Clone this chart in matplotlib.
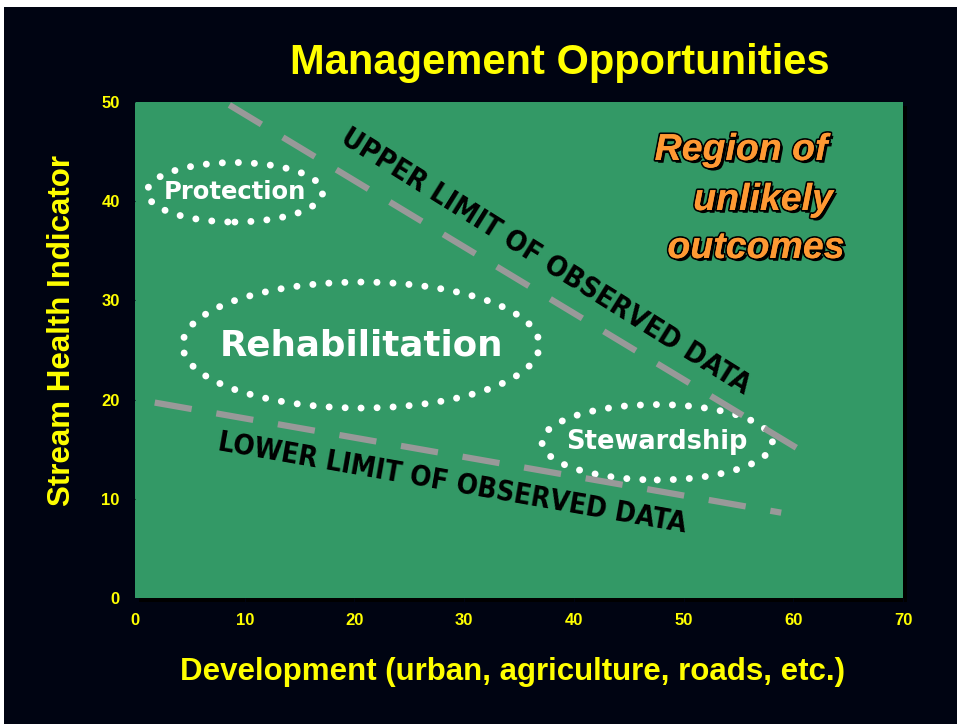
import matplotlib.pyplot as plt
import matplotlib.patheffects as pe
from matplotlib import font_manager
from matplotlib.patches import Ellipse, Rectangle

# limits of observed data (development, stream health)
upper_x = [8.6, 60.5]
upper_y = [49.7, 15.0]
lower_x = [1.8, 58.9]
lower_y = [19.7, 8.6]

# management zones: name, centre x, centre y, width, height
zone_names = ['Protection', 'Rehabilitation', 'Stewardship']
zone_x = [9.1, 20.6, 47.6]
zone_y = [40.9, 25.5, 15.7]
zone_w = [16.0, 32.5, 21.0]
zone_h = [6.0, 12.7, 7.6]
zone_size = [17.5, 25.7, 18.5]

xticks = [0, 10, 20, 30, 40, 50, 60, 70]
yticks = [0, 10, 20, 30, 40, 50]

yellow = '#ffff00'
green = '#339966'
bg = '#000412'

# narrow face for the limit labels if one is installed, bold one first
fonts = font_manager.fontManager.ttflist
narrow = [f for f in fonts if 'Narrow' in f.name or 'Condensed' in f.name
          or f.stretch in ('condensed', 'semi-condensed', 575, 625)]
narrow_bold = [f for f in narrow if f.weight in ('bold', 700, 'heavy', 800)]
if narrow_bold:
    limit_font, limit_stretch = narrow_bold[0].name, narrow_bold[0].stretch
elif narrow:
    limit_font, limit_stretch = narrow[0].name, narrow[0].stretch
else:
    limit_font, limit_stretch = 'Liberation Sans', 'normal'

fig = plt.figure(figsize=(9.57, 7.24), dpi=100, facecolor='white')
fig.patches.append(Rectangle((4 / 957, 0), 1, 1 - 7 / 724, transform=fig.transFigure,
                             facecolor=bg, edgecolor='none', zorder=-5))

ax = fig.add_axes([135 / 957, 1 - 598 / 724, 768 / 957, 496 / 724])
ax.set_zorder(1)
ax.set_facecolor(green)
ax.patch.set_path_effects([pe.SimplePatchShadow(offset=(3, -3), shadow_rgbFace='black', alpha=1),
                           pe.Normal()])
ax.set_xlim(0, 70)
ax.set_ylim(0, 50)
for s in ax.spines.values():
    s.set_visible(False)
ax.set_xticks(xticks)
ax.set_yticks(yticks)
ax.tick_params(colors=bg, labelcolor=yellow, length=4, pad=7)
for lab in ax.get_xticklabels() + ax.get_yticklabels():
    lab.set_fontweight('bold')
    lab.set_fontsize(12)
    lab.set_fontfamily('Liberation Sans')

ax.plot(upper_x, upper_y, color='#999999', lw=4.5, dashes=(6, 4), solid_capstyle='butt')
ax.plot(lower_x, lower_y, color='#999999', lw=4.5, dashes=(6, 4), solid_capstyle='butt')

for name, cx, cy, w, h, fs in zip(zone_names, zone_x, zone_y, zone_w, zone_h, zone_size):
    e = Ellipse((cx, cy), w, h, fill=False, edgecolor='white', lw=5,
                linestyle=(0, (0.01, 2.3)), capstyle='round')
    ax.add_patch(e)
    ax.text(cx, cy, name, color='white', fontsize=fs, fontweight='bold',
            family='DejaVu Sans', ha='center', va='center')

up = ax.text(0.534, 0.679, 'UPPER LIMIT OF OBSERVED DATA', transform=ax.transAxes,
             rotation=-32, rotation_mode='anchor', ha='center', va='center',
             fontsize=20, family=limit_font, fontstretch=limit_stretch,
             fontweight='bold', color='black')
lo = ax.text(0.413, 0.232, 'LOWER LIMIT OF OBSERVED DATA', transform=ax.transAxes,
             rotation=-10, rotation_mode='anchor', ha='center', va='center',
             fontsize=20, family=limit_font, fontstretch=limit_stretch,
             fontweight='bold', color='black')

# fit both limit labels to the run they have in the original (about 475 px)
r = fig.canvas.get_renderer()
for t in (up, lo):
    t.set_rotation(0)
    wpx = t.get_window_extent(r).width
    t.set_fontsize(20 * 475 / wpx)
up.set_rotation(-32)
lo.set_rotation(-10)

region_lines = ['Region of', 'unlikely', 'outcomes']
region_x = [741, 763, 756]
region_y = [150, 200, 248]
for txt, px, py in zip(region_lines, region_x, region_y):
    t = fig.text(px / 957, 1 - py / 724, txt, color='#ff9933', fontsize=27,
                 fontweight='bold', fontstyle='italic', family='Liberation Sans',
                 ha='center', va='center', zorder=5)
    t.set_path_effects([pe.withSimplePatchShadow(offset=(2, -2), shadow_rgbFace='black', alpha=1),
                        pe.withStroke(linewidth=2.5, foreground='black'), pe.Normal()])

fig.text(560 / 957, 1 - 63 / 724, 'Management Opportunities', color=yellow,
         fontsize=30, fontweight='bold', family='Liberation Sans', ha='center', va='center')
fig.text(512 / 957, 1 - 672 / 724, 'Development (urban, agriculture, roads, etc.)',
         color=yellow, fontsize=22.5, fontweight='bold', family='Liberation Sans',
         ha='center', va='center')
fig.text(62 / 957, 1 - 330 / 724, 'Stream Health Indicator', color=yellow, fontsize=22.5,
         fontweight='bold', family='Liberation Sans', ha='center', va='center', rotation=90)

fig.savefig('out.png', dpi=100, facecolor=fig.get_facecolor())
